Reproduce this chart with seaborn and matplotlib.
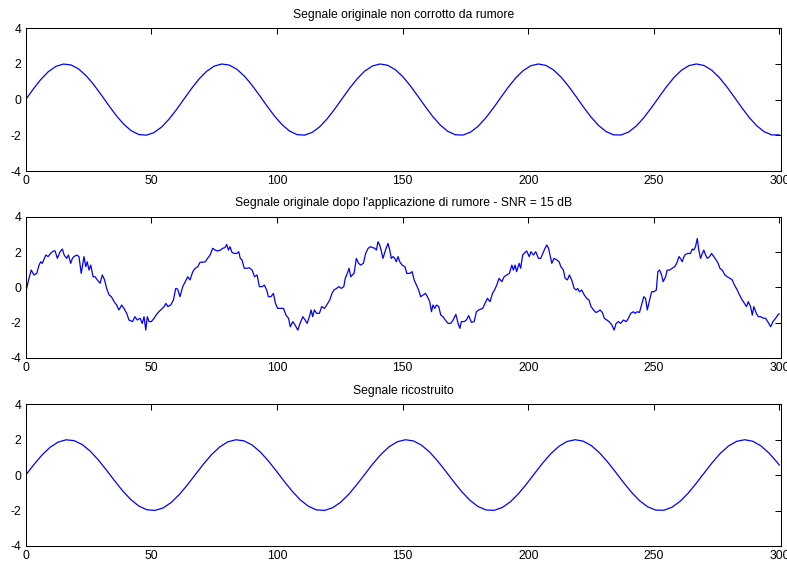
import matplotlib
matplotlib.use("Agg")
import matplotlib.pyplot as plt
import seaborn as sns
import numpy as np

# ---------------- data ----------------
# original signal, sampled every 3 time units (t = 0..300)
t_orig = list(range(0, 301, 3))
y_orig = [0.0, 0.591, 1.129, 1.567, 1.864, 1.995, 1.948, 1.726, 1.351, 0.855, 0.282,
          -0.316, -0.885, -1.376, -1.743, -1.955, -1.992, -1.852, -1.546, -1.101, -0.559,
          0.034, 0.623, 1.157, 1.587, 1.876, 1.997, 1.940, 1.709, 1.326, 0.824, 0.249,
          -0.349, -0.915, -1.400, -1.759, -1.962, -1.989, -1.839, -1.524, -1.073, -0.526,
          0.067, 0.655, 1.184, 1.608, 1.887, 1.999, 1.931, 1.692, 1.301, 0.793, 0.216,
          -0.382, -0.945, -1.424, -1.775, -1.968, -1.985, -1.825, -1.502, -1.045, -0.494,
          0.101, 0.687, 1.211, 1.627, 1.898, 2.000, 1.922, 1.673, 1.275, 0.762, 0.182,
          -0.415, -0.974, -1.447, -1.790, -1.974, -1.981, -1.811, -1.480, -1.016, -0.461,
          0.134, 0.718, 1.238, 1.647, 1.909, 2.000, 1.913, 1.655, 1.249, 0.731, 0.149,
          -0.448, -1.004, -1.470, -1.805, -1.979, -1.976]

# noisy signal (SNR = 15 dB), vertices
t_noisy = [0, 1.2, 2.2, 3.3, 4.4, 5.3, 6, 6.6, 8, 8.9, 9.9, 11, 11.7, 12.6, 13.7, 14.6, 15.3,
           16.3, 17, 17.9, 18.6, 19.2, 20.3, 21.2, 22.1, 23.2, 23.9, 24.5, 25.2, 25.9, 26.8,
           27.6, 28.5, 29.6, 30.5, 31.4, 32.2, 33.2, 34.1, 35.2, 36.2, 37.1, 38.2, 39.1, 40.2,
           41.1, 42.5, 43.5, 44.4, 45.5, 46.4, 47.1, 47.8, 48.4, 49.1, 50, 51.1, 52.4, 53.7,
           55.1, 55.8, 56.6, 57.7, 58.8, 59.7,
           60.5, 61.4, 62.5, 63.5, 64.5, 65.4, 66.5, 67.5, 68.5, 69.4, 70.4, 71.5, 72.4, 73.4,
           74.4, 75.4, 76.4, 77.5, 78.4, 79.3, 80, 80.7, 81.3, 82.1, 83.1, 84, 84.8, 85.4,
           86.1, 87, 88, 89, 90.1, 91.1, 92.1, 93, 94.1, 95, 95.9, 96.6, 97.6, 98.6, 99.4,
           100.3, 101.6, 102.6, 103.6, 104.6, 105.3, 106.3, 107.2, 108.3, 109.2, 110.3, 111.2,
           112, 112.9, 113.6, 114.2, 114.9, 115.8, 116.9, 117.8, 118.9, 119.8,
           121, 121.9, 122.7, 123.7, 124.7, 125.6, 126.6, 127.2, 128, 128.7, 129.4, 130, 130.7,
           131.6, 132.5, 133.3, 134.4, 135.3, 136.3, 137.2, 138.1, 138.9, 139.6, 140.2, 140.9,
           141.6, 142.2, 143.2, 144.2, 144.9, 145.5, 146.2, 146.9, 147.5, 148.2, 148.9, 149.8,
           150.9, 151.7, 152.9, 153.8, 154.6, 155.5, 156.4, 157.2, 158.2, 159.1, 159.9, 160.8,
           161.5, 162.1, 162.8, 163.5, 164.4, 165.2, 166.1, 167, 168.1, 169.2, 170.1, 171.2,
           172.1, 172.8, 173.4, 174.5, 175.4, 176.3, 177.4, 178.5, 179.4, 180.3,
           181.9, 182.8, 183.8, 184.8, 185.8, 186.6, 187.5, 188.4, 189.5, 190.4, 191.5, 192.5,
           193.5, 194.1, 194.8, 195.4, 196.4, 197, 197.8, 198.8, 199.4, 200.4, 201.1, 202.1,
           203, 204.1, 205, 205.8, 206.7, 207.4, 208.1, 208.7, 209.4, 210.3, 211.4, 212.3, 213,
           214, 214.7, 215.6, 216.4, 217.3, 218.3, 219.1, 219.7, 220.4, 221.3, 222.3, 223.3,
           224.2, 225, 226, 226.9, 227.7, 228.6, 229.5, 230.3, 231.3, 232.2, 233.3, 234.2, 235,
           235.9, 236.8, 237.9, 239, 239.9, 240.8, 241.9,
           242.5, 243.4, 244.3, 245.1, 246, 246.7, 247.4, 248.3, 249.1, 250, 251, 251.6, 252.3,
           253.1, 253.7, 254.7, 255.3, 256.3, 257.3, 258.3, 259.1, 260, 260.6, 261.3, 262,
           262.6, 263.6, 264.6, 265.3, 265.9, 266.6, 267.3, 267.9, 268.6, 269.3, 269.9, 270.6,
           271.3, 272.2, 273, 273.9, 274.8, 275.6, 276.3, 277.2, 278.3, 279.2, 280.3, 281.2,
           282.1, 283.2, 284.1, 285.2, 286.1, 286.9, 287.6, 288.5, 289.2, 289.8, 290.8, 291.6,
           292.5, 293.6, 294.5, 295.5, 296.5, 297.4, 298.5, 299.5, 300]
y_noisy = [-0.3, 0.45, 0.98, 0.70, 0.79, 1.26, 1.45, 1.36, 1.83, 1.74, 1.92, 2.06, 2.06, 1.64,
           2.02, 2.17, 1.83, 1.64, 1.83, 1.36, 1.64, 1.74, 1.83, 1.74, 0.79, 1.74, 1.17, 1.45,
           0.98, 1.26, 0.6, 0.6, 0.42, 0.23, 0.70, 0.42, -0.06, -0.43, -0.53, -0.81, -1.0,
           -1.28, -1.0, -1.19, -1.47, -1.85, -1.94, -1.66, -1.85, -1.75, -2.04, -1.66, -2.42,
           -1.66, -1.94, -1.94, -1.75, -1.47, -1.28, -1.09, -0.91, -1.09, -1.0, -0.72, -0.06,
           -0.1, -0.53, 0.04, 0.32, 0.6, 0.42, 0.89, 1.08, 1.17, 1.42, 1.42, 1.45, 1.64, 1.83,
           2.21, 2.11, 2.06, 2.11, 2.21, 2.25, 2.43, 2.11, 2.3, 1.98, 1.92, 1.92, 2.02, 1.64,
           1.55, 1.08, 1.08, 1.11, 0.98, 0.6, 0.7, 0.04, 0.04, 0.13, -0.15, -0.53, -0.53,
           -0.34, -0.91, -1.19, -1.19, -1.19, -1.57, -1.75, -2.23, -1.94, -2.13, -2.42, -2.04,
           -1.66, -1.85, -2.04, -1.66, -1.28, -1.66, -1.28, -1.47, -1.47, -1.09, -1.19, -1.0,
           -0.72, -0.34, -0.15, -0.06, 0.04, -0.06, 0.04, 0.51, 0.79, 1.08, 0.6, 0.7, 0.79,
           1.64, 1.36, 1.26, 1.36, 1.92, 2.21, 2.3, 2.25, 2.21, 2.11, 2.58, 2.4, 2.02, 1.64,
           2.11, 2.49, 2.11, 1.64, 1.74, 1.64, 1.45, 1.74, 1.45, 1.26, 1.17, 0.79, 0.79, 0.89,
           0.42, 0.13, -0.15, -0.53, -0.43, -0.34, -0.53, -0.81, -1.38, -1.0, -1.19, -1.0,
           -1.09, -1.57, -1.66, -1.85, -2.04, -2.04, -1.85, -1.53, -2.04, -2.32, -1.94, -1.94,
           -1.85, -1.6, -1.98, -1.94, -1.38, -1.28,
           -1.19, -0.91, -0.62, -0.81, -0.34, -0.15, 0.13, 0.51, 0.32, 0.6, 0.7, 0.79, 1.26,
           0.98, 1.26, 0.89, 1.36, 1.08, 1.83, 1.98, 2.06, 1.74, 2.02, 1.83, 2.02, 1.64, 1.64,
           1.92, 2.21, 2.4, 2.21, 1.83, 1.36, 1.64, 1.55, 1.45, 1.17, 0.98, 0.51, 0.42, 0.7,
           0.42, -0.06, -0.15, -0.06, -0.25, -0.15, -0.43, -0.62, -0.72, -1.09, -1.28, -1.42,
           -1.38, -1.28, -1.42, -1.75, -1.85, -1.94, -2.13, -2.42, -2.04, -1.94, -2.04, -1.85,
           -1.94, -1.75, -1.47, -1.38,
           -1.47, -1.38, -1.42, -1.0, -0.53, -0.62, -1.28, -0.72, -0.25, -0.25, -0.15, 0.89,
           0.98, 0.70, 0.32, 0.6, 0.98, 0.98, 1.08, 1.17, 1.36, 1.74, 1.64, 1.45, 1.74, 1.87,
           1.92, 1.92, 2.17, 2.11, 2.3, 2.77, 2.11, 1.64, 1.92, 2.11, 1.83, 1.64, 1.74, 1.92,
           1.74, 1.55, 1.36, 1.08, 0.98, 0.7, 0.6, 0.51, 0.42, 0.13, -0.15, -0.43, -0.72,
           -0.91, -1.09, -0.81, -1.09, -1.57, -1.09, -1.47, -1.66, -1.66, -1.75, -1.75, -1.98,
           -2.23, -1.94, -1.75, -1.53, -1.5]

# reconstructed signal, vertices
t_rec = [0.0, 3.22, 6.43, 9.65, 12.86, 16.08, 19.29, 22.51, 25.72, 28.94, 32.15, 35.37, 38.59,
         41.80, 45.02, 48.23, 51.45, 54.66, 57.88, 61.09, 64.31, 67.52, 70.74, 73.95, 77.17,
         80.39, 83.60, 86.82, 90.03, 93.25, 96.46, 99.68, 102.89, 106.11, 109.32, 112.54,
         115.76, 118.97, 122.19, 125.40, 128.62, 131.83, 135.05, 138.26, 141.48, 144.69,
         147.91, 151.13, 154.34, 157.56, 160.77, 163.99, 167.20, 170.42, 173.63, 176.85,
         180.06, 183.28, 186.50, 189.71, 192.93, 196.14, 199.36, 202.57, 205.79, 209.00,
         212.22, 215.43, 218.65, 221.86, 225.08, 228.30, 231.51, 234.73, 237.94, 241.16,
         244.37, 247.59, 250.80, 254.02, 257.23, 260.45, 263.67, 266.88, 270.10, 273.31,
         276.53, 279.74, 282.96, 286.17, 289.39, 292.60, 295.82, 299.04, 300.0]
y_rec = [0.0, 0.591, 1.129, 1.567, 1.864, 1.995, 1.948, 1.726, 1.351, 0.855, 0.282,
         -0.316, -0.885, -1.376, -1.743, -1.955, -1.992, -1.852, -1.546, -1.101, -0.559,
         0.034, 0.623, 1.157, 1.587, 1.876, 1.997, 1.940, 1.709, 1.326, 0.824, 0.249,
         -0.349, -0.915, -1.400, -1.759, -1.962, -1.989, -1.839, -1.524, -1.073, -0.526,
         0.067, 0.655, 1.184, 1.608, 1.887, 1.999, 1.931, 1.692, 1.301, 0.793, 0.216,
         -0.382, -0.945, -1.424, -1.775, -1.968, -1.985, -1.825, -1.502, -1.045, -0.494,
         0.101, 0.687, 1.211, 1.627, 1.898, 2.000, 1.922, 1.673, 1.275, 0.762, 0.182,
         -0.415, -0.974, -1.447, -1.790, -1.974, -1.981, -1.811, -1.480, -1.016, -0.461,
         0.134, 0.718, 1.238, 1.647, 1.909, 2.000, 1.913, 1.655, 1.249, 0.731, 0.561]

titles = ["Segnale originale non corrotto da rumore",
          "Segnale originale dopo l'applicazione di rumore - SNR = 15 dB",
          "Segnale ricostruito"]
x_ticks = [0, 50, 100, 150, 200, 250, 300]
y_ticks = [-4, -2, 0, 2, 4]

# ---------------- style ----------------
sns.set_theme(style="white")
plt.rcParams['font.family'] = ['Liberation Sans', 'DejaVu Sans']

fig = plt.figure(figsize=(7.87, 5.63), dpi=100)
fig.patch.set_facecolor("white")

W, H = 787.0, 563.0
left, right = 25.7, 780.7
rows = [(28.3, 171.0), (216.7, 358.0), (404.3, 546.0)]
series = [(t_orig, y_orig), (t_noisy, y_noisy), (t_rec, y_rec)]

for (top, bot), (tx, ty), title in zip(rows, series, titles):
    ax = fig.add_axes([left / W, 1 - bot / H, (right - left) / W, (bot - top) / H])
    sns.lineplot(x=tx, y=ty, ax=ax, color=(0, 0, 1), linewidth=0.9, sort=False)
    ax.set_xlim(0, 300.5)
    ax.set_ylim(-4, 4)
    ax.set_xticks(x_ticks)
    ax.set_yticks(y_ticks)
    ax.set_xticklabels([str(v) for v in x_ticks])
    ax.set_yticklabels([str(v) for v in y_ticks])
    ax.tick_params(direction='in', top=True, right=True, length=4.3, width=0.75,
                   colors='black', labelsize=8.7, pad=3.2)
    for sp in ax.spines.values():
        sp.set_color('black')
        sp.set_linewidth(0.75)
        sp.set_visible(True)
    ax.set_facecolor('white')
    ax.set_title(title, fontsize=8.7, pad=7.5, color='black')
    ax.set_xlabel("")
    ax.set_ylabel("")

fig.savefig("out.png", dpi=100, facecolor="white")
